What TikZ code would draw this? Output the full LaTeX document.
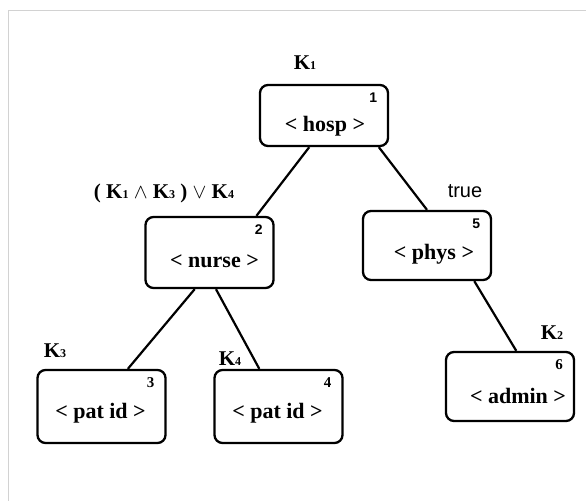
\documentclass[tikz,border=0pt]{standalone}
\usepackage{fontspec}
\setmainfont{Liberation Serif}
\newfontfamily\numfont{Liberation Sans}
\usetikzlibrary{positioning, calc}

\tikzset{
  box/.style={draw, line width=2.3pt, rounded corners=8pt, minimum width=128pt, minimum height=69pt, inner sep=0pt},
  tag/.style={font=\fontsize{22}{22}\selectfont\bfseries},
  num/.style={font=\numfont\fontsize{14}{14}\selectfont\bfseries},
  snum/.style={font=\fontsize{15}{15}\selectfont\bfseries},
  klabel/.style={font=\fontsize{21}{21}\selectfont\bfseries},
  link/.style={line width=2.2pt},
}
\newcommand{\kk}[1]{K{\fontsize{12}{12}\selectfont #1}}

\begin{document}
\begin{tikzpicture}[x=1pt, y=-1pt]
  \useasboundingbox (0,0) rectangle (586,501);
  % page frame
  \draw[gray!35, line width=1pt] (586,10) -- (8,10) -- (8,501);

  % boxes
  \node[box, minimum height=61pt] (n1) at (324,115.5) {};
  \node[box, minimum height=71pt] (n2) at (209.5,252.5) {};
  \node[box] (n5) at (427,245.5) {};
  \node[box, minimum height=73pt] (n3) at (101.5,406.5) {};
  \node[box, minimum height=73pt] (n4) at (278.5,406.5) {};
  \node[box] (n6) at (510,386.5) {};

  % element names
  \foreach \n/\t/\dx/\dy in {n1/hosp/1/-11, n2/nurse/5/-9, n5/phys/7/-9,
                             n3/pat id/-1/-7, n4/pat id/-1/-7, n6/admin/8/-9}
    \node[tag] at ([xshift=\dx pt, yshift=\dy pt]\n.center) {< \t{} >};

  % numbers
  \foreach \n/\k/\s in {n1/1/num, n2/2/num, n5/5/num, n3/3/snum, n4/4/snum, n6/6/snum}
    \node[\s] at ([xshift=-16pt, yshift=-14pt]\n.north east) {\k};

  % conditions
  \node[klabel] (c1) at (305,63) {\kk1};
  \node[klabel] (c2) at (164,193) {( \kk1 $\wedge$ \kk3 ) $\vee$ \kk4};
  \node[font=\numfont\fontsize{20}{20}\selectfont] (c5) at (465,191) {true};
  \node[klabel] (c3) at (55,351) {\kk3};
  \node[klabel] (c4) at (230,359) {\kk4};
  \node[klabel] (c6) at (552,333) {\kk2};

  % tree edges
  \draw[link] (n1.245) -- (n2.38);
  \draw[link] (n1.330) -- (n5.north);
  \draw[link] (n2.248) -- (n3.55);
  \draw[link] (n2.280) -- (n4.117);
  \draw[link] (n5.323) -- (n6.80);
\end{tikzpicture}
\end{document}
